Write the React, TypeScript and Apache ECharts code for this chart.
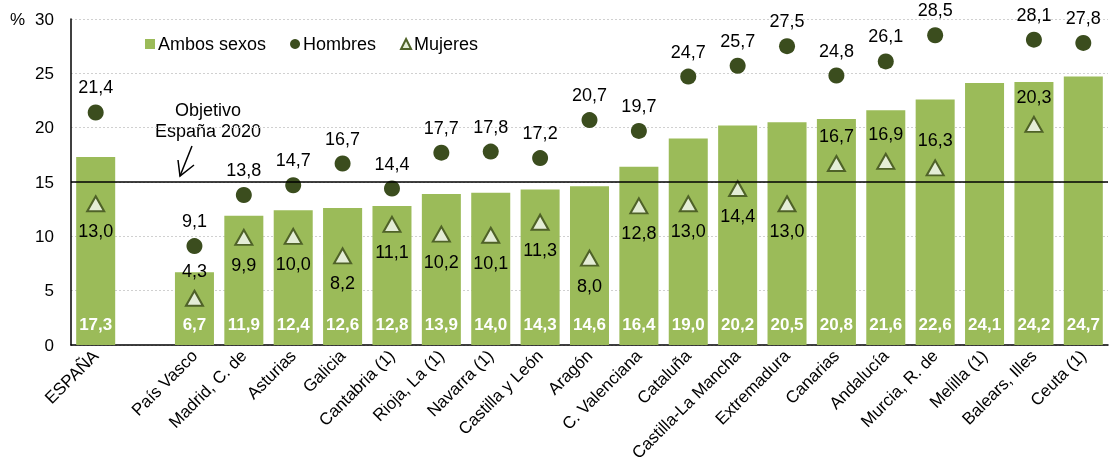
import React, { useEffect, useRef } from "react";
import * as echarts from "echarts";

const categories = [
  "ESPAÑA", "", "País Vasco", "Madrid, C. de", "Asturias", "Galicia", "Cantabria (1)",
  "Rioja, La (1)", "Navarra (1)", "Castilla y León", "Aragón", "C. Valenciana", "Cataluña",
  "Castilla-La Mancha", "Extremadura", "Canarias", "Andalucía", "Murcia, R. de",
  "Melilla (1)", "Balears, Illes", "Ceuta (1)",
];
const ambos = [17.3, null, 6.7, 11.9, 12.4, 12.6, 12.8, 13.9, 14.0, 14.3, 14.6, 16.4, 19.0, 20.2, 20.5, 20.8, 21.6, 22.6, 24.1, 24.2, 24.7];
const hombres = [21.4, null, 9.1, 13.8, 14.7, 16.7, 14.4, 17.7, 17.8, 17.2, 20.7, 19.7, 24.7, 25.7, 27.5, 24.8, 26.1, 28.5, null, 28.1, 27.8];
const mujeres = [13.0, null, 4.3, 9.9, 10.0, 8.2, 11.1, 10.2, 10.1, 11.3, 8.0, 12.8, 13.0, 14.4, 13.0, 16.7, 16.9, 16.3, null, 20.3, null];
const mujeresLabelAbove = ["País Vasco", "Canarias", "Andalucía", "Murcia, R. de", "Balears, Illes"];
const objetivo = 15;
const yTicks = { min: 0, max: 30, interval: 5 };

const FONT = "'Liberation Sans', Arial, sans-serif";
const fmt = (v: number) => v.toFixed(1).replace(".", ",");

export default function App() {
  const ref = useRef<HTMLDivElement>(null);
  useEffect(() => {
    const chart = echarts.init(ref.current!, null, { renderer: "svg" });
    const mujeresData = mujeres.map((v, i) =>
      v == null
        ? { value: null }
        : {
            value: v,
            label: { position: mujeresLabelAbove.includes(categories[i]) ? "top" : "bottom" },
          }
    );
    chart.setOption({
      animation: false,
      textStyle: { fontFamily: FONT },
      grid: { left: 71, right: 5, top: 19, bottom: 128 },
      legend: {
        left: 145,
        top: 35,
        padding: 0,
        itemWidth: 10,
        itemHeight: 10,
        itemGap: 24,
        textStyle: { fontFamily: FONT, fontSize: 18, color: "#000", padding: [0, 0, 0, -2] },
        data: [
          { name: "Ambos sexos", icon: "rect" },
          { name: "Hombres", icon: "circle" },
          { name: "Mujeres", icon: "triangle" },
        ],
      },
      xAxis: {
        type: "category",
        data: categories,
        axisLine: { lineStyle: { color: "#000", width: 1.5 } },
        axisTick: { show: false },
        axisLabel: { interval: 0, rotate: 45, fontSize: 17, color: "#000", margin: 8, fontFamily: FONT },
      },
      yAxis: {
        type: "value",
        min: yTicks.min,
        max: yTicks.max,
        interval: yTicks.interval,
        axisLine: { show: true, lineStyle: { color: "#000", width: 1.5 } },
        axisTick: { show: false },
        axisLabel: { fontSize: 17, color: "#000", margin: 17, fontFamily: FONT },
        splitLine: { lineStyle: { color: "#d0d0d0", type: [2, 2] } },
      },
      graphic: [
        { type: "text", left: 10, top: 11, style: { text: "%", font: `17px ${FONT}`, fill: "#000" } },
        {
          type: "text",
          x: 208,
          y: 99,
          style: { text: "Objetivo\nEspaña 2020", font: `18px ${FONT}`, fill: "#000", align: "center", lineHeight: 21 },
        },
        { type: "line", shape: { x1: 192, y1: 146, x2: 180, y2: 176 }, style: { stroke: "#000", lineWidth: 1.5 } },
        { type: "polyline", shape: { points: [[178, 160], [180, 176], [194, 165]] }, style: { stroke: "#000", lineWidth: 1.5, fill: null } },
      ],
      series: [
        {
          name: "Ambos sexos",
          type: "bar",
          data: ambos,
          barCategoryGap: "21%",
          itemStyle: { color: "#9bbb59" },
          label: {
            show: true,
            position: "insideBottom",
            distance: 12,
            color: "#fff",
            fontWeight: "bold",
            fontSize: 17,
            fontFamily: FONT,
            formatter: (p: any) => (p.value == null ? "" : fmt(p.value)),
          },
          markLine: {
            silent: true,
            symbol: "none",
            label: { show: false },
            lineStyle: { color: "#000", width: 1.5, type: "solid" },
            data: [{ yAxis: objetivo }],
          },
        },
        {
          name: "Hombres",
          type: "scatter",
          data: hombres,
          symbol: "circle",
          symbolSize: 16,
          itemStyle: { color: "#3b4d1e", opacity: 1 },
          label: {
            show: true,
            position: "top",
            distance: 8,
            color: "#000",
            fontSize: 18,
            fontFamily: FONT,
            formatter: (p: any) => fmt(p.value),
          },
          z: 3,
        },
        {
          name: "Mujeres",
          type: "scatter",
          data: mujeresData,
          symbol: "triangle",
          symbolSize: [17, 15],
          itemStyle: { color: "#e4edd6", borderColor: "#4f6228", borderWidth: 2, opacity: 1 },
          label: {
            show: true,
            distance: 10,
            color: "#000",
            fontSize: 18,
            fontFamily: FONT,
            formatter: (p: any) => fmt(p.value),
          },
          z: 4,
        },
      ],
    });
    return () => chart.dispose();
  }, []);
  return <div ref={ref} style={{ position: "fixed", left: 0, top: 0, width: 1113, height: 473 }} />;
}
